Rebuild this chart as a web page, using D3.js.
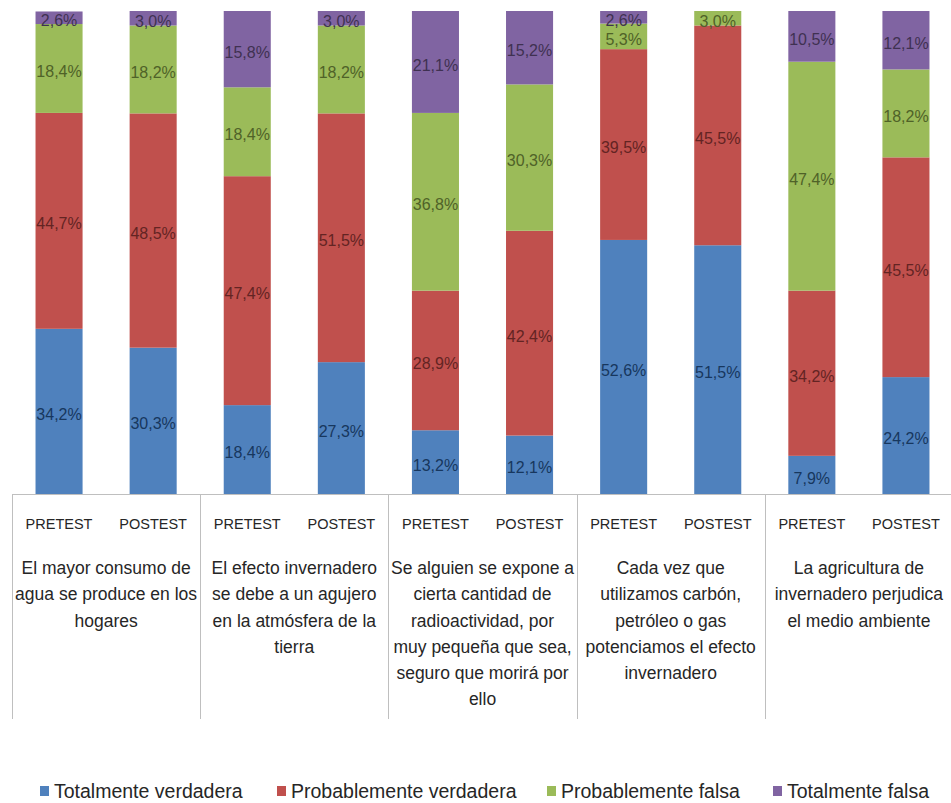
<!DOCTYPE html>
<html><head><meta charset="utf-8">
<script src="https://cdn.jsdelivr.net/npm/d3@7"></script>
<style>html,body{margin:0;padding:0;background:#fff;overflow:hidden;}svg{display:block;}</style>
</head><body>
<svg id="chart" width="951" height="803"></svg>
<script>
const categories = [
  ["El mayor consumo de", "agua se produce en los", "hogares"],
  ["El efecto invernadero", "se debe a un agujero", "en la atmósfera de la", "tierra"],
  ["Se alguien se expone a", "cierta cantidad de", "radioactividad, por", "muy pequeña que sea,", "seguro que morirá por", "ello"],
  ["Cada vez que", "utilizamos carbón,", "petróleo o gas", "potenciamos el efecto", "invernadero"],
  ["La agricultura de", "invernadero perjudica", "el medio ambiente"]
];
const phases = ["PRETEST", "POSTEST"];
const seriesNames = ["Totalmente verdadera", "Probablemente verdadera", "Probablemente falsa", "Totalmente falsa"];
// order: cat1 PRE, cat1 POST, cat2 PRE, ...
const totalmenteVerdadera   = [34.2, 30.3, 18.4, 27.3, 13.2, 12.1, 52.6, 51.5, 7.9, 24.2];
const probablementeVerdadera= [44.7, 48.5, 47.4, 51.5, 28.9, 42.4, 39.5, 45.5, 34.2, 45.5];
const probablementeFalsa    = [18.4, 18.2, 18.4, 18.2, 36.8, 30.3, 5.3, 3.0, 47.4, 18.2];
const totalmenteFalsa       = [2.6, 3.0, 15.8, 3.0, 21.1, 15.2, 2.6, 0, 10.5, 12.1];

const colors = ["#4F81BD", "#C0504D", "#9BBB59", "#8064A2"];
const labelColors = ["#17375E", "#632423", "#4F6228", "#3F3151"];

const bars = [];
categories.forEach((c, ci) => phases.forEach((p, pi) => bars.push({id: ci + "-" + pi, cat: ci, phase: p})));
const seriesVals = [totalmenteVerdadera, probablementeVerdadera, probablementeFalsa, totalmenteFalsa];
const rows = bars.map((b, i) => {
  const r = {id: b.id};
  seriesNames.forEach((s, si) => r[s] = seriesVals[si][i]);
  return r;
});
const stacked = d3.stack().keys(seriesNames)(rows);

const svg = d3.select("#chart");
const pLeft = 12, pRight = 953, pTop = 11, pBottom = 494;
const x = d3.scaleBand().domain(bars.map(b => b.id)).range([pLeft, pRight]).paddingInner(0.5).paddingOuter(0.25);
const y = d3.scaleLinear().domain([0, 100]).range([pBottom, pTop]);
const catX = d3.scaleBand().domain(categories.map((c, i) => i)).range([pLeft, pRight]);

const font = "'Liberation Sans', Arial, sans-serif";

stacked.forEach((layer, si) => {
  const g = svg.append("g");
  g.selectAll("rect").data(layer).join("rect")
    .attr("x", d => x(d.data.id))
    .attr("width", x.bandwidth())
    .attr("y", d => y(d[1]))
    .attr("height", d => y(d[0]) - y(d[1]))
    .attr("fill", colors[si]);
  g.selectAll("text").data(layer.filter(d => d[1] - d[0] > 0)).join("text")
    .attr("x", d => x(d.data.id) + x.bandwidth() / 2)
    .attr("y", d => y((d[0] + d[1]) / 2) + 3)
    .attr("dy", "0.35em")
    .attr("text-anchor", "middle")
    .attr("font-family", font)
    .attr("font-size", 16)
    .attr("fill", labelColors[si])
    .text(d => (d[1] - d[0]).toFixed(1).replace(".", ",") + "%");
});

// axis box
const axisCol = "#bfbfbf";
svg.append("line").attr("x1", pLeft).attr("x2", pRight).attr("y1", pBottom + 0.5).attr("y2", pBottom + 0.5)
  .attr("stroke", axisCol).attr("stroke-width", 1);
const seps = d3.range(categories.length + 1).map(i => i < categories.length ? catX(i) : pRight);
svg.selectAll("line.sep").data(seps).join("line").attr("class", "sep")
  .attr("x1", d => Math.round(d) + 0.5).attr("x2", d => Math.round(d) + 0.5)
  .attr("y1", pBottom).attr("y2", 719)
  .attr("stroke", axisCol).attr("stroke-width", 1);

// phase labels
svg.selectAll("text.phase").data(bars).join("text").attr("class", "phase")
  .attr("x", d => x(d.id) + x.bandwidth() / 2)
  .attr("y", 524).attr("dy", "0.35em")
  .attr("text-anchor", "middle")
  .attr("font-family", font).attr("font-size", 14.5).attr("fill", "#262626")
  .text(d => d.phase);

// category labels
categories.forEach((lines, ci) => {
  const t = svg.append("text")
    .attr("text-anchor", "middle")
    .attr("font-family", font).attr("font-size", 17.5).attr("fill", "#262626");
  lines.forEach((ln, li) => {
    t.append("tspan").attr("x", catX(ci) + catX.bandwidth() / 2)
      .attr("y", 568 + li * 26.2).attr("dy", "0.35em").text(ln);
  });
});

// legend
const legendX = [40, 277, 547, 773];
const lg = svg.append("g");
seriesNames.forEach((s, si) => {
  lg.append("rect").attr("x", legendX[si]).attr("y", 786).attr("width", 9).attr("height", 10).attr("fill", colors[si]);
  lg.append("text").attr("x", legendX[si] + 14).attr("y", 798)
    .attr("font-family", font).attr("font-size", 19.5).attr("fill", "#262626").text(s);
});
</script>
</body></html>
